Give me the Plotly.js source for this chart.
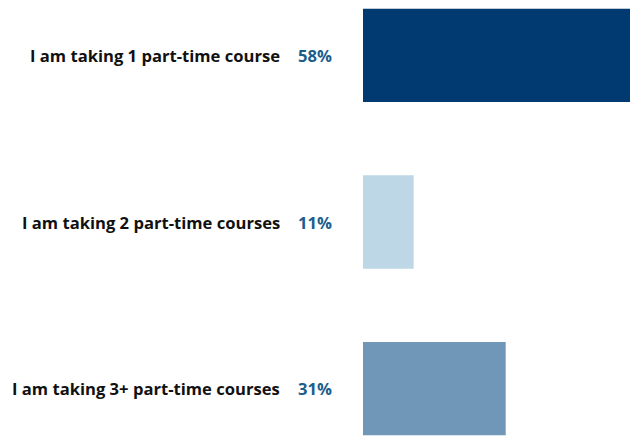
<!DOCTYPE html>
<html>
<head>
<meta charset="utf-8">
<script src="https://cdn.plot.ly/plotly-3.0.1.min.js"></script>
<style>html,body{margin:0;padding:0;background:#fff;}#chart{width:630px;height:437px;}</style>
</head>
<body>
<div id="chart"></div>
<script>
const categories = ["I am taking 1 part-time course", "I am taking 2 part-time courses", "I am taking 3+ part-time courses"];
const values = [58, 11, 31];
const valueLabels = ["58%", "11%", "31%"];
const colors = ["#003a70", "#bdd7e7", "#7096b8"];

const W = 630, H = 437, L = 363, R = 0;
const plotW = W - L - R;
const catX = (282 - L) / plotW;
const pctX = (334 - L) / plotW;

const annotations = [];
categories.forEach((c, i) => {
  annotations.push({xref: 'paper', yref: 'y', x: catX, y: c, text: '<b>' + c + '</b>', showarrow: false,
    xanchor: 'right', yanchor: 'middle', font: {family: 'Open Sans, sans-serif', size: 16.6, color: '#111111'}});
  annotations.push({xref: 'paper', yref: 'y', x: pctX, y: c, text: '<b>' + valueLabels[i] + '</b>', showarrow: false,
    xanchor: 'right', yanchor: 'middle', font: {family: 'Open Sans, sans-serif', size: 16.6, color: '#1b5e8c'}});
});

Plotly.newPlot('chart', [{
  type: 'bar', orientation: 'h', x: values, y: categories,
  marker: {color: colors}, width: 0.56, hoverinfo: 'none'
}], {
  width: W, height: H,
  margin: {l: L, r: R, t: 0, b: 0, pad: 0},
  paper_bgcolor: '#fff', plot_bgcolor: '#fff',
  xaxis: {range: [0, 58], visible: false, fixedrange: true},
  yaxis: {type: 'category', categoryorder: 'array', categoryarray: categories,
    range: [2.291, -0.333], showticklabels: false, showgrid: false, zeroline: false, showline: false, ticks: ''},
  annotations: annotations,
  showlegend: false
}, {displayModeBar: false, staticPlot: true});
</script>
</body>
</html>
